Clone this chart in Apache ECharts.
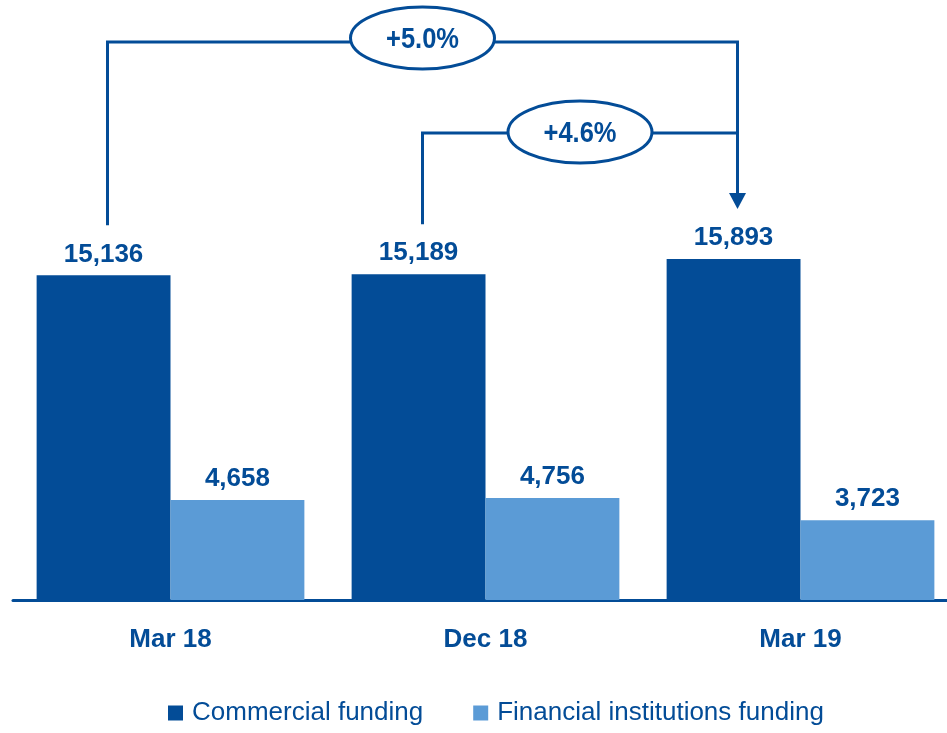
<!doctype html>
<html lang="en" style="height: 100%">
<head>
  <meta charset="utf-8" />
  <script type="text/javascript" src="https://fastly.jsdelivr.net/npm/echarts@6.0.0/dist/echarts.min.js"></script>
</head>
<body style="height: 100%; margin: 0; background: #fff; overflow: hidden">
  <div id="main" style="width: 960px; height: 733px"></div>
  <script type="text/javascript">
    var categories = ['Mar 18', 'Dec 18', 'Mar 19'];
    var commercial = [15136, 15189, 15893];
    var financial = [4658, 4756, 3723];
    var changes = ['+5.0%', '+4.6%'];

    var dark = '#034c97';
    var light = '#5b9bd6';
    var fontFam = "'Liberation Sans', Arial, sans-serif";

    var chartDom = document.getElementById('main');
    var myChart = echarts.init(chartDom);

    var labelFmt = function (p) {
      return p.value.toLocaleString('en-US');
    };

    // chart is a bit wider than the window so the axis runs off the right edge like the original
    var option = {
      animation: false,
      grid: { left: 13, right: 2, top: 171, bottom: 133 },
      legend: {
        left: 168,
        top: 700,
        padding: 0,
        icon: 'rect',
        itemWidth: 15,
        itemHeight: 15,
        itemGap: 50,
        textStyle: { fontFamily: fontFam, fontSize: 26, color: dark, padding: [0, 0, 0, 4] },
        data: ['Commercial funding', 'Financial institutions funding']
      },
      xAxis: {
        type: 'category',
        data: categories,
        axisLine: { lineStyle: { color: dark, width: 3 } },
        axisTick: { show: false },
        axisLabel: { fontFamily: fontFam, fontSize: 26, fontWeight: 'bold', color: dark, margin: 27 }
      },
      yAxis: { type: 'value', min: 0, max: 20000, show: false },
      series: [
        {
          name: 'Commercial funding',
          type: 'bar',
          data: commercial,
          barGap: '0%',
          barCategoryGap: '15%',
          itemStyle: { color: dark },
          label: { show: true, position: 'top', distance: 8, formatter: labelFmt, fontFamily: fontFam, fontSize: 26, fontWeight: 'bold', color: dark }
        },
        {
          name: 'Financial institutions funding',
          type: 'bar',
          data: financial,
          itemStyle: { color: light },
          label: { show: true, position: 'top', distance: 8, formatter: labelFmt, fontFamily: fontFam, fontSize: 26, fontWeight: 'bold', color: dark }
        }
      ]
    };
    myChart.setOption(option);

    // brackets with growth percentages
    function barTop(i) {
      var p = myChart.convertToPixel({ gridIndex: 0 }, [i, commercial[i]]);
      var w = 134;
      return [p[0] - w / 2 + 4, p[1]];
    }
    var a = barTop(0), b = barTop(1), c = barTop(2);
    var lift = 50;
    var top1 = 42, top2 = 133;
    var tip = c[1] - lift;
    var lineStyle = { stroke: dark, lineWidth: 3, fill: null };

    function oval(cx, cy, txt) {
      return [
        { type: 'ellipse', shape: { cx: cx, cy: cy, rx: 72, ry: 31 }, style: { fill: '#fff', stroke: dark, lineWidth: 3 }, z: 10 },
        { type: 'text', x: cx, y: cy + 2, scaleX: 0.85, style: { text: txt, align: 'center', verticalAlign: 'middle', font: 'bold 30px ' + fontFam, fill: dark }, z: 11 }
      ];
    }

    var graphics = [
      { type: 'polyline', shape: { points: [[a[0], a[1] - lift], [a[0], top1], [c[0], top1], [c[0], tip - 14]] }, style: lineStyle, z: 5 },
      { type: 'polyline', shape: { points: [[b[0], b[1] - lift], [b[0], top2], [c[0], top2]] }, style: lineStyle, z: 5 },
      { type: 'polygon', shape: { points: [[c[0] - 8.5, tip - 16], [c[0] + 8.5, tip - 16], [c[0], tip]] }, style: { fill: dark }, z: 5 }
    ].concat(oval((a[0] + c[0]) / 2, top1 - 4, changes[0]), oval((b[0] + c[0]) / 2, top2 - 1, changes[1]));

    myChart.setOption({ graphic: graphics });
  </script>
</body>
</html>
